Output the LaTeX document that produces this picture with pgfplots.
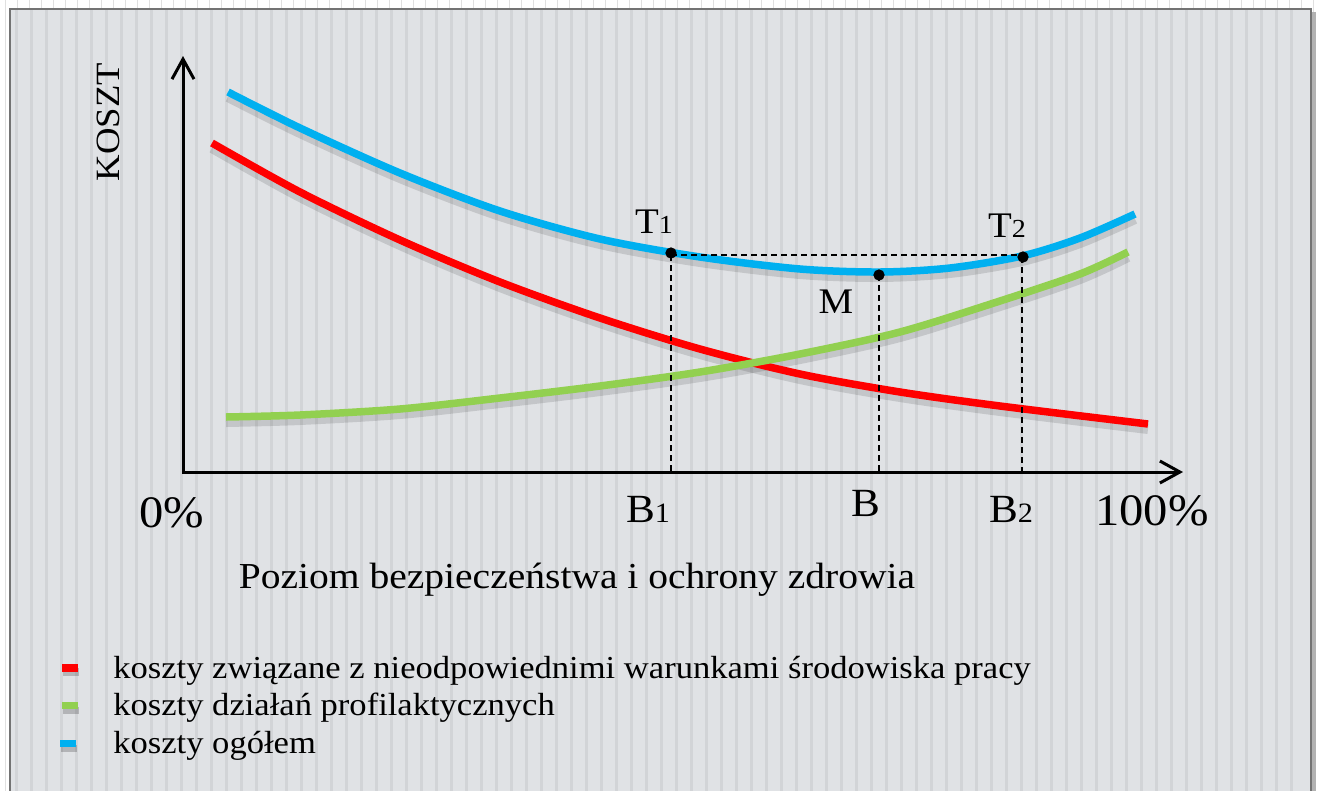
\documentclass[border=0pt]{standalone}
\usepackage{pgfplots}
\pgfplotsset{compat=1.18}
\usetikzlibrary{arrows.meta}
\usepackage{fontspec}
\setmainfont[FakeStretch=1.08]{Liberation Serif}
\definecolor{cblue}{HTML}{00B0F0}
\definecolor{cred}{HTML}{FF0000}
\definecolor{cgreen}{HTML}{92D050}
\definecolor{panel}{HTML}{E0E2E5}
\definecolor{stripe}{HTML}{D2D4D7}
\newcommand{\fs}[1]{\fontsize{#1}{#1}\selectfont}
\pgfplotstableread{
x y
212 143
300 192
400 240
500 282
600 318
700 349
800 374
900 392
1000 406
1148 424
}\redtab
\pgfplotstableread{
x y
226 417
300 415
400 409
500 398
600 386
700 372
800 354
900 332
1000 301
1080 274
1128 252
}\greentab
\pgfplotstableread{
x y
228 92
300 128
400 173
500 211
600 239
700 257
800 269
880 272
950 268
1022 256
1080 238
1135 214
}\bluetab
\begin{document}
\begin{tikzpicture}[x=0.5pt,y=-0.5pt]
\useasboundingbox (0,0) rectangle (1318,791);
\fill[white] (0,0) rectangle (1318,791);
\foreach \x in {5,17,...,1318} \draw[black!12, line width=0.4pt] (\x,0) -- (\x,791);
\fill[black!30] (13,12) rectangle (1316,800);
\fill[panel] (10,9) rectangle (1311,800);
\foreach \x in {16,31,...,1305} \fill[stripe] (\x-1.5,10) rectangle (\x+1.5,800);
\draw[black!55, line width=1pt] (10,800) -- (10,9) -- (1311,9) -- (1311,800);
\begin{axis}[at={(0,0)}, anchor=north west, scale only axis, width=659pt, height=395.5pt,
  xmin=0, xmax=1318, ymin=0, ymax=791, y dir=reverse, hide axis, clip=false]
% axes
\draw[line width=1.5pt, {Straight Barb[length=10pt,width=11pt]}-{Straight Barb[length=10pt,width=11pt]}]
  (183,56) -- (183,472) -- (1183,472);
% shadows
\addplot[black, opacity=0.12, line width=5pt, smooth, yshift=-2.5pt, forget plot] table {\redtab};
\addplot[black, opacity=0.12, line width=5pt, smooth, yshift=-2.5pt, forget plot] table {\greentab};
\addplot[black, opacity=0.12, line width=5pt, smooth, yshift=-2.5pt, forget plot] table {\bluetab};
% curves
\addplot[cred, line width=3.75pt, smooth] table {\redtab};
\addplot[cgreen, line width=3.75pt, smooth] table {\greentab};
\addplot[cblue, line width=3.75pt, smooth] table {\bluetab};
% dashed guides
\addplot[black, line width=0.7pt, dash pattern=on 3pt off 2pt] coordinates {(671,255)(1022,255)};
\addplot[black, line width=0.7pt, dash pattern=on 3pt off 2pt] coordinates {(671,255)(671,472)};
\addplot[black, line width=0.7pt, dash pattern=on 3pt off 2pt] coordinates {(879,275)(879,472)};
\addplot[black, line width=0.7pt, dash pattern=on 3pt off 2pt] coordinates {(1022,257)(1022,472)};
% points
\addplot[only marks, mark=*, mark size=2.6pt, black] coordinates {(671,253)(879,275)(1023,257)};
% labels
\node[anchor=base, font=\fs{18}] at (654,233) {T{\fs{13}1}};
\node[anchor=base, font=\fs{18}] at (1007,237) {T{\fs{13}2}};
\node[anchor=base, font=\fs{18}] at (836,313) {M};
\node[anchor=base, font=\fs{20}] at (648,522) {B{\fs{14}1}};
\node[anchor=base, font=\fs{20}] at (866,516) {B};
\node[anchor=base, font=\fs{20}] at (1011,522) {B{\fs{14}2}};
\node[anchor=base, font=\fs{22.5}] at (172,527) {0\%};
\node[anchor=base, font=\fs{22.5}] at (1152,525) {100\%};
\node[anchor=base, font=\fs{18.3}] at (577,588) {Poziom bezpieczeństwa i ochrony zdrowia};
\node[anchor=base, rotate=90, font=\fs{17}] at (120,122) {KOSZT};
% legend
\fill[black, opacity=0.2] (63,668) rectangle (79,676);
\fill[black, opacity=0.2] (63,707) rectangle (79,714);
\fill[black, opacity=0.2] (61,745) rectangle (77,752);
\fill[cred] (62,664) rectangle (78,672);
\fill[cgreen] (62,702) rectangle (78,709);
\fill[cblue] (60,740) rectangle (76,747);
\node[anchor=base west, inner sep=0pt, font=\fs{16}] at (113,678) {koszty związane z nieodpowiednimi warunkami środowiska pracy};
\node[anchor=base west, inner sep=0pt, font=\fs{16}] at (113,715.5) {koszty działań profilaktycznych};
\node[anchor=base west, inner sep=0pt, font=\fs{16}] at (113,753) {koszty ogółem};
\end{axis}
\end{tikzpicture}
\end{document}
